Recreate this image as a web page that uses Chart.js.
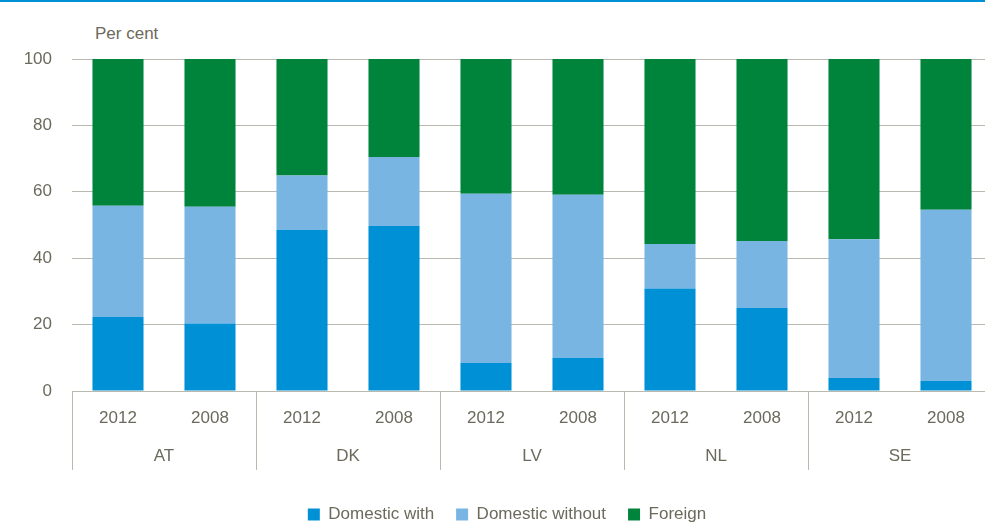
<!DOCTYPE html>
<html>
<head>
<meta charset="utf-8">
<script src="https://cdn.jsdelivr.net/npm/chart.js@4.4.1/dist/chart.umd.min.js"></script>
<style>
	body { margin: 0; background: #fff; }
	#wrap { position: relative; width: 985px; height: 525px; overflow: hidden; }
	#topLine { position: absolute; left: 0; top: 0; width: 985px; height: 2px; background: #0090d6; }
	#unit { position: absolute; left: 95px; top: 24px; line-height: 20px; font-size: 17px; color: #6b6a5c;
		font-family: 'Liberation Sans', Arial, sans-serif; }
	#shareChart { position: absolute; left: 0; top: 0; }
</style>
</head>
<body>
<div id="wrap">
	<div id="topLine"></div>
	<div id="unit">Per cent</div>
	<canvas id="shareChart" width="1000" height="525"></canvas>
</div>
<script>
// categories
const countries = ['AT', 'DK', 'LV', 'NL', 'SE'];
const years = ['2012', '2008'];

// shares in per cent, ordered AT 2012, AT 2008, DK 2012, ...
const domesticWith = [22.3, 20.3, 48.6, 49.7, 8.4, 10.0, 30.9, 25.0, 3.9, 3.1];
const domesticWithout = [33.5, 35.2, 16.3, 20.8, 51.0, 49.1, 13.4, 20.2, 41.8, 51.5];
const foreign = [44.2, 44.5, 35.1, 29.5, 40.6, 40.9, 55.7, 54.8, 54.3, 45.4];

const yTicks = [0, 20, 40, 60, 80, 100];

const FONT = "'Liberation Sans', Arial, sans-serif";
const TEXT_COLOR = '#6b6a5c';
const GRID_COLOR = '#bab9ad';

document.addEventListener("DOMContentLoaded", function() {
	const yearLabels = countries.flatMap(() => years);

	const ctx = document.getElementById('shareChart').getContext('2d');
	new Chart(ctx, {
		type: 'bar',
		data: {
			labels: yearLabels,
			datasets: [{
				label: 'Domestic with',
				data: domesticWith,
				backgroundColor: '#0090d6'
			}, {
				label: 'Domestic without',
				data: domesticWithout,
				backgroundColor: '#78b5e2'
			}, {
				label: 'Foreign',
				data: foreign,
				backgroundColor: '#00843b'
			}]
		},
		options: {
			responsive: false,
			animation: false,
			datasets: {
				bar: { categoryPercentage: 1, barPercentage: 0.555, borderWidth: 0 }
			},
			layout: {
				padding: { top: 59, right: 8, bottom: 0, left: 22 }
			},
			plugins: {
				tooltip: { enabled: false },
				legend: {
					position: 'bottom',
					maxHeight: 41,
					labels: {
						boxWidth: 12,
						boxHeight: 12,
						padding: 22,
						color: TEXT_COLOR,
						font: { family: FONT, size: 17 }
					}
				}
			},
			scales: {
				y: {
					stacked: true,
					min: 0,
					max: 100,
					afterBuildTicks: function(scale) {
						scale.ticks = yTicks.map(v => ({ value: v }));
					},
					afterFit: function(scale) { scale.width = 50; },
					grid: { color: GRID_COLOR, drawTicks: false },
					border: { display: false },
					ticks: { padding: 20, color: TEXT_COLOR, font: { family: FONT, size: 17 } }
				},
				// years, with tick lines only at the country boundaries
				x: {
					stacked: true,
					offset: true,
					afterFit: function(scale) { scale.height = 39; },
					grid: {
						offset: true,
						drawOnChartArea: false,
						tickLength: 39,
						color: c => (c.index !== undefined && c.index % 2 === 0) ? GRID_COLOR : 'rgba(0,0,0,0)'
					},
					border: { display: false },
					ticks: { padding: -22, maxRotation: 0, autoSkip: false, color: TEXT_COLOR, font: { family: FONT, size: 17 } }
				},
				// countries underneath the years
				x2: {
					type: 'category',
					position: 'bottom',
					weight: 1,
					labels: countries,
					offset: true,
					afterFit: function(scale) { scale.height = 54; },
					grid: { offset: true, drawOnChartArea: false, tickLength: 40, color: GRID_COLOR },
					border: { display: false },
					ticks: { padding: -24, maxRotation: 0, autoSkip: false, color: TEXT_COLOR, font: { family: FONT, size: 17 } }
				}
			}
		}
	});
});
</script>
</body>
</html>
